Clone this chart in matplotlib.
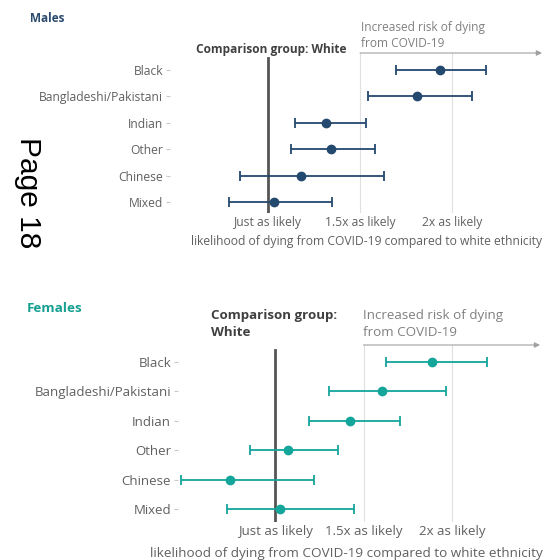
import matplotlib.pyplot as plt

# ethnic groups, bottom row first
groups = ["Mixed", "Chinese", "Other", "Indian", "Bangladeshi/Pakistani", "Black"]

male_est = [1.03, 1.18, 1.34, 1.315, 1.81, 1.935]
male_lo = [0.79, 0.85, 1.127, 1.145, 1.545, 1.696]
male_hi = [1.35, 1.63, 1.58, 1.53, 2.11, 2.185]

female_est = [1.03, 0.746, 1.076, 1.426, 1.606, 1.887]
female_lo = [0.728, 0.467, 0.856, 1.194, 1.305, 1.626]
female_hi = [1.447, 1.22, 1.357, 1.708, 1.966, 2.195]

tick_vals = [1.0, 1.5, 2.0]
tick_text = ["Just as likely", "1.5x as likely", "2x as likely"]

plt.rcParams['font.family'] = ['Open Sans', 'DejaVu Sans']

W, H = 545, 560
fig = plt.figure(figsize=(W / 100, H / 100), dpi=100)


def px(x, y):
    return x / W, 1 - y / H


def panel(rect, xlim, ylim, est, lo, hi, color, fs, vline_top):
    ax = fig.add_axes(rect)
    ax.set_xlim(*xlim)
    ax.set_ylim(*ylim)
    for s in ax.spines.values():
        s.set_visible(False)
    ypos = list(range(len(groups)))
    for g in tick_vals[1:]:
        ax.axvline(g, color='#e0e0e0', lw=0.8, zorder=0)
    ax.axvline(1.0, ymax=vline_top, color='#555555', lw=2, zorder=1)
    err = [[e - l for e, l in zip(est, lo)], [h - e for e, h in zip(est, hi)]]
    ax.errorbar(est, ypos, xerr=err, fmt='o', color=color, ms=6,
                lw=1.3, capsize=3.5, capthick=1.3, zorder=3)
    ax.set_yticks(ypos)
    ax.set_yticklabels(groups)
    ax.tick_params(axis='y', length=3, width=0.8, color='#c8c8c8', pad=2,
                   labelsize=fs, labelcolor='#606060')
    ax.set_xticks(tick_vals)
    ax.set_xticklabels(tick_text)
    ax.tick_params(axis='x', length=0, pad=2, labelsize=fs, labelcolor='#606060')
    ax.annotate('', xy=(1.0, 1.0), xycoords=('axes fraction', 'axes fraction'),
                xytext=(1.5, 1.0), textcoords=('data', 'axes fraction'),
                arrowprops=dict(arrowstyle='-|>', color='#a0a0a0', lw=0.8,
                                mutation_scale=8, shrinkA=0, shrinkB=0))
    return ax


# males
axm = panel([170 / W, 1 - 213 / H, 372 / W, 160 / H], (0.467, 2.489), (-0.42, 5.64),
            male_est, male_lo, male_hi, '#24496e', 8.7, 0.969)
axm.set_xlabel("likelihood of dying from COVID-19 compared to white ethnicity",
               fontsize=8.7, color='#606060')
axm.xaxis.set_label_coords((367 - 170) / 372, -(241 - 213) / 160)
axm.xaxis.label.set_va('center')

# females
axf = panel([178 / W, 1 - 522 / H, 362 / W, 177 / H], (0.452, 2.497), (-0.44, 5.58),
            female_est, female_lo, female_hi, '#14a59b', 9.5, 0.972)
axf.set_xlabel("likelihood of dying from COVID-19 compared to white ethnicity",
               fontsize=9.7, color='#606060')
axf.xaxis.set_label_coords((346 - 178) / 362, -(553 - 522) / 177)
axf.xaxis.label.set_va('center')

# panel titles and annotations
fig.text(*px(30, 18), "Males", fontsize=8.5, fontweight='bold', color='#2b4b6f', va='center')
fig.text(*px(27, 308), "Females", fontsize=9.7, fontweight='bold', color='#17a092', va='center')

fig.text(*px(347, 50), "Comparison group: White", fontsize=8.6, fontweight='bold',
         color='#404040', ha='right', va='center')
fig.text(*px(211, 324), "Comparison group:\nWhite", fontsize=9.6, fontweight='bold',
         color='#404040', ha='left', va='center', linespacing=1.35)

fig.text(*px(361, 35.5), "Increased risk of dying\nfrom COVID-19", fontsize=8.6,
         color='#808080', ha='left', va='center', linespacing=1.25)
fig.text(*px(363, 324), "Increased risk of dying\nfrom COVID-19", fontsize=9.6,
         color='#808080', ha='left', va='center', linespacing=1.35)

fig.text(*px(28, 193), "Page 18", fontsize=21.5, rotation=270, color='black',
         family='Liberation Sans', ha='center', va='center')

fig.savefig("out.png", dpi=100)
